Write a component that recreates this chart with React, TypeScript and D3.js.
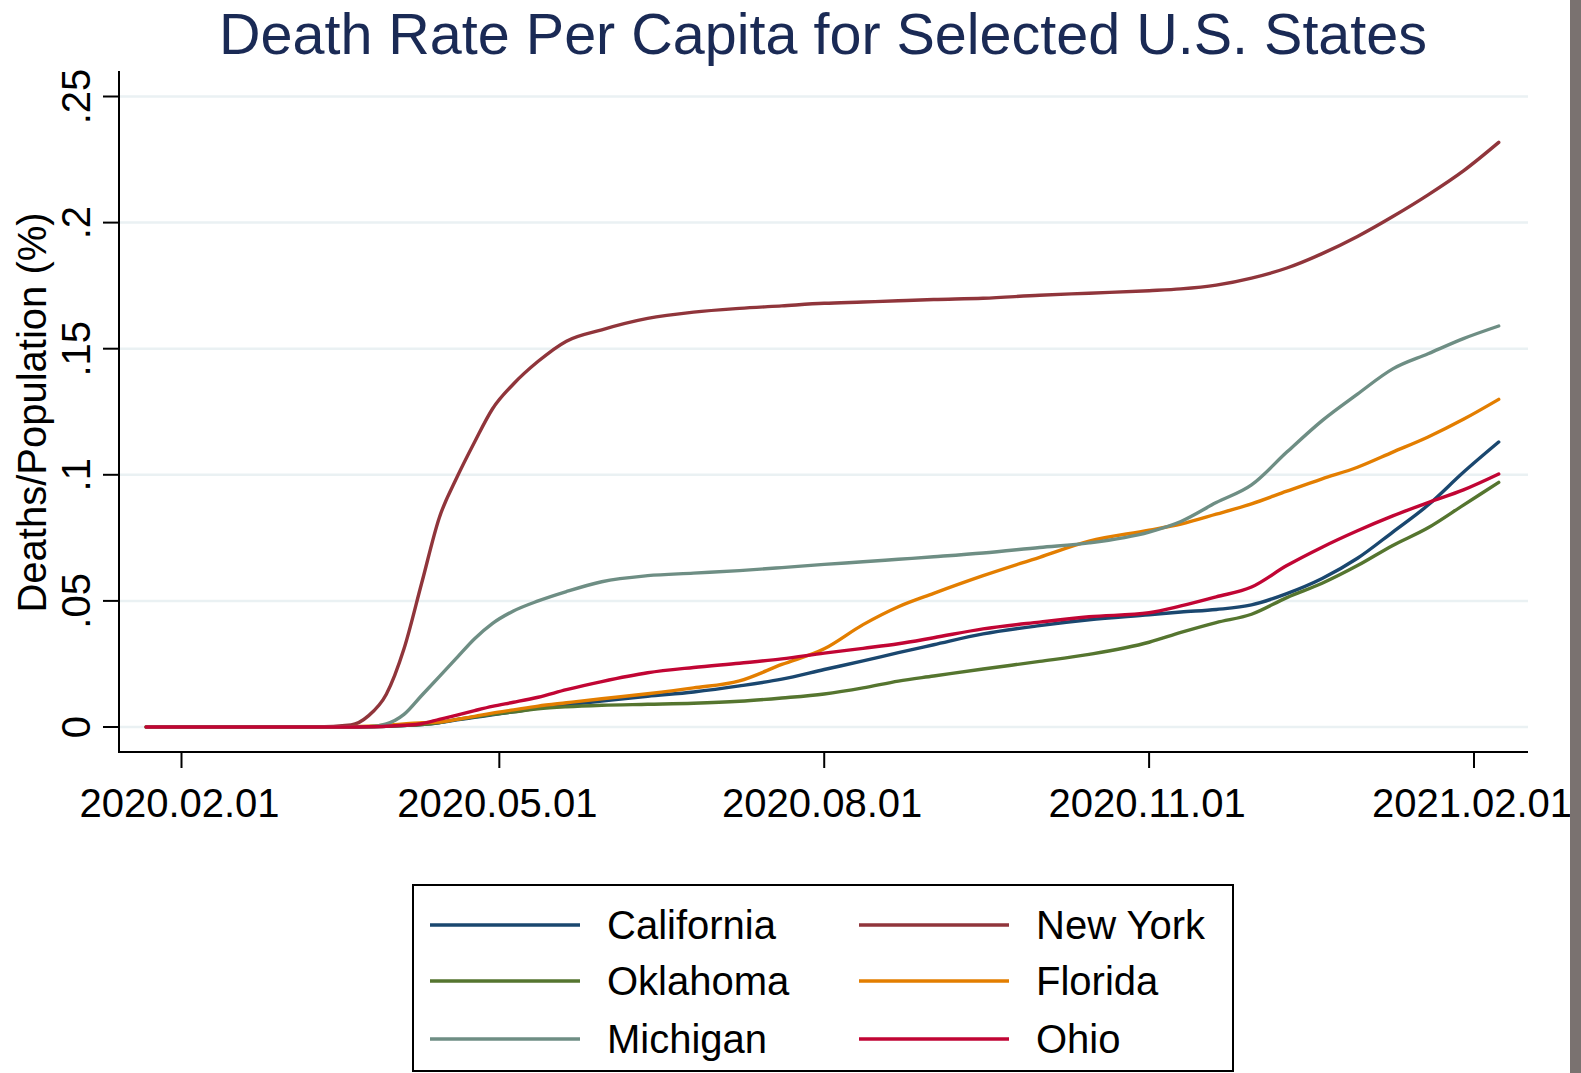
import * as d3 from "d3";

// sample dates (daily data thinned to key points)
const dates = [
  "2020-01-22", "2020-03-10", "2020-03-20", "2020-03-25", "2020-03-30", "2020-04-04",
  "2020-04-09", "2020-04-14", "2020-04-19", "2020-04-24", "2020-04-29", "2020-05-05",
  "2020-05-12", "2020-05-20", "2020-05-30", "2020-06-12", "2020-06-25", "2020-07-08",
  "2020-07-20", "2020-08-01", "2020-08-12", "2020-08-22", "2020-09-01", "2020-09-15",
  "2020-10-01", "2020-10-15", "2020-11-01", "2020-11-10", "2020-11-20", "2020-11-30",
  "2020-12-10", "2020-12-20", "2020-12-30", "2021-01-09", "2021-01-19", "2021-01-29",
  "2021-02-08",
];

const california = [0, 0, 0, 0.0001, 0.0003, 0.0006, 0.001, 0.0017, 0.0028, 0.0038, 0.0048, 0.006, 0.0075, 0.0088, 0.0103, 0.0122, 0.0139, 0.0163, 0.019, 0.0228, 0.0262, 0.0295, 0.0326, 0.0369, 0.0402, 0.0425, 0.0445, 0.0456, 0.0466, 0.0484, 0.0529, 0.0589, 0.0669, 0.0773, 0.088, 0.101, 0.113];
const newYork = [0, 0, 0.0008, 0.0045, 0.013, 0.031, 0.057, 0.083, 0.099, 0.113, 0.126, 0.136, 0.145, 0.153, 0.1575, 0.162, 0.1645, 0.166, 0.167, 0.168, 0.1685, 0.169, 0.1695, 0.17, 0.1712, 0.172, 0.173, 0.1737, 0.1752, 0.178, 0.182, 0.1877, 0.1945, 0.2024, 0.211, 0.2205, 0.2318];
const oklahoma = [0, 0, 0, 0.0001, 0.0003, 0.0006, 0.001, 0.0018, 0.003, 0.004, 0.005, 0.006, 0.0072, 0.008, 0.0086, 0.009, 0.0094, 0.0102, 0.0115, 0.0131, 0.0155, 0.0182, 0.0202, 0.023, 0.026, 0.0288, 0.0336, 0.0375, 0.0414, 0.0447, 0.0513, 0.057, 0.064, 0.072, 0.079, 0.088, 0.097];
const florida = [0, 0, 0.0001, 0.0003, 0.0007, 0.0012, 0.0017, 0.002, 0.003, 0.0042, 0.0055, 0.0068, 0.0083, 0.0096, 0.0112, 0.0132, 0.0155, 0.0183, 0.0248, 0.031, 0.0406, 0.0477, 0.053, 0.06, 0.0673, 0.0737, 0.078, 0.0805, 0.0844, 0.0885, 0.0935, 0.0984, 0.103, 0.109, 0.115, 0.122, 0.1299];
const michigan = [0, 0, 0, 0.0001, 0.0012, 0.005, 0.0125, 0.02, 0.0275, 0.035, 0.041, 0.046, 0.05, 0.0537, 0.0576, 0.06, 0.061, 0.062, 0.0632, 0.0645, 0.0655, 0.0665, 0.0675, 0.069, 0.0712, 0.073, 0.0773, 0.0815, 0.089, 0.096, 0.109, 0.1215, 0.132, 0.142, 0.148, 0.154, 0.159];
const ohio = [0, 0, 0, 0.0001, 0.0003, 0.0007, 0.0013, 0.003, 0.0047, 0.0065, 0.0082, 0.0098, 0.0118, 0.0148, 0.018, 0.0215, 0.0236, 0.0253, 0.027, 0.0293, 0.0312, 0.033, 0.0354, 0.0389, 0.0416, 0.0437, 0.0453, 0.048, 0.0516, 0.0555, 0.064, 0.0713, 0.0778, 0.0837, 0.089, 0.094, 0.1003];

// drawing order = Stata plot order (legend fills row by row)
const stateNames = ["California", "New York", "Oklahoma", "Florida", "Michigan", "Ohio"];
const stateValues = [california, newYork, oklahoma, florida, michigan, ohio];
const stateColors = ["#1a476f", "#90353b", "#55752f", "#e37e00", "#6e8e84", "#c10534"];

const yTicks = [0, 0.05, 0.1, 0.15, 0.2, 0.25];
const yTickLabels = ["0", ".05", ".1", ".15", ".2", ".25"];
const xTicks = ["2020-02-01", "2020-05-01", "2020-08-01", "2020-11-01", "2021-02-01"];

const W = 1581;
const H = 1073;
const FONT = "'Liberation Sans', Arial, Helvetica, sans-serif";

export default function App() {
  const parse = d3.utcParse("%Y-%m-%d");
  const fmt = d3.utcFormat("%Y.%m.%d");

  const x = d3.scaleUtc()
    .domain([parse("2020-02-01")!, parse("2021-02-01")!])
    .range([181.5, 1474]);
  const y = d3.scaleLinear().domain([0, 0.25]).range([727, 96.5]);

  const plotLeft = 119;
  const plotRight = 1528;
  const plotTop = 71;
  const plotBottom = 752;

  const line = d3.line<[Date, number]>()
    .x(d => x(d[0]))
    .y(d => y(d[1]))
    .curve(d3.curveMonotoneX);

  const series = stateNames.map((name, i) => ({
    name,
    color: stateColors[i],
    points: dates.map((d, j) => [parse(d)!, stateValues[i][j]] as [Date, number]),
  }));

  // legend: two columns, three rows
  const legendOrder = [0, 2, 4, 1, 3, 5]; // col 1: CA, OK, MI; col 2: NY, FL, OH
  const legendRowY = [925, 981, 1039];
  const legendColX = [430, 859];

  return (
    <svg
      width={W}
      height={H}
      style={{ position: "absolute", left: 0, top: 0, display: "block", background: "#fff" }}
      fontFamily={FONT}
    >
      <rect x={0} y={0} width={W} height={H} fill="#ffffff" />

      {/* title */}
      <text x={823} y={54} textAnchor="middle" fontSize={57.5} fill="#1a2a55">
        Death Rate Per Capita for Selected U.S. States
      </text>

      {/* grid */}
      {yTicks.map(t => (
        <line key={"g" + t} x1={plotLeft + 1} x2={plotRight} y1={y(t)} y2={y(t)}
          stroke="#eaf1f3" strokeWidth={2.5} />
      ))}

      {/* series */}
      {series.map(s => (
        <path key={s.name} d={line(s.points) || ""} fill="none" stroke={s.color}
          strokeWidth={3.4} strokeLinejoin="round" strokeLinecap="round" />
      ))}

      {/* y axis */}
      <line x1={plotLeft} x2={plotLeft} y1={plotTop} y2={plotBottom} stroke="#000" strokeWidth={2} />
      {yTicks.map((t, i) => (
        <g key={"y" + t}>
          <line x1={plotLeft - 16} x2={plotLeft} y1={y(t)} y2={y(t)} stroke="#000" strokeWidth={2} />
          <text transform={`translate(90, ${y(t)}) rotate(-90)`} textAnchor="middle"
            fontSize={40} fill="#000">{yTickLabels[i]}</text>
        </g>
      ))}
      <text transform={`translate(46, ${(plotTop + plotBottom) / 2 + 1}) rotate(-90)`} textAnchor="middle"
        fontSize={40} fill="#000">Deaths/Population (%)</text>

      {/* x axis */}
      <line x1={plotLeft - 1} x2={plotRight} y1={plotBottom} y2={plotBottom} stroke="#000" strokeWidth={2} />
      {xTicks.map(t => {
        const d = parse(t)!;
        return (
          <g key={"x" + t}>
            <line x1={x(d)} x2={x(d)} y1={plotBottom} y2={plotBottom + 16} stroke="#000" strokeWidth={2} />
            <text x={x(d) - 2} y={817} textAnchor="middle" fontSize={40} fill="#000">{fmt(d)}</text>
          </g>
        );
      })}

      {/* legend */}
      <rect x={413} y={885} width={820} height={186} fill="#fff" stroke="#000" strokeWidth={2} />
      {legendOrder.map((si, k) => {
        const col = Math.floor(k / 3);
        const row = k % 3;
        const lx = legendColX[col];
        const ly = legendRowY[row];
        return (
          <g key={"l" + si}>
            <line x1={lx} x2={lx + 150} y1={ly} y2={ly} stroke={stateColors[si]} strokeWidth={3.4} />
            <text x={lx + 177} y={ly + 14} fontSize={40} fill="#000">{stateNames[si]}</text>
          </g>
        );
      })}

      {/* dark strip at the right edge of the screenshot */}
      <rect x={1570} y={0} width={11} height={H} fill="#7a7270" />
    </svg>
  );
}
